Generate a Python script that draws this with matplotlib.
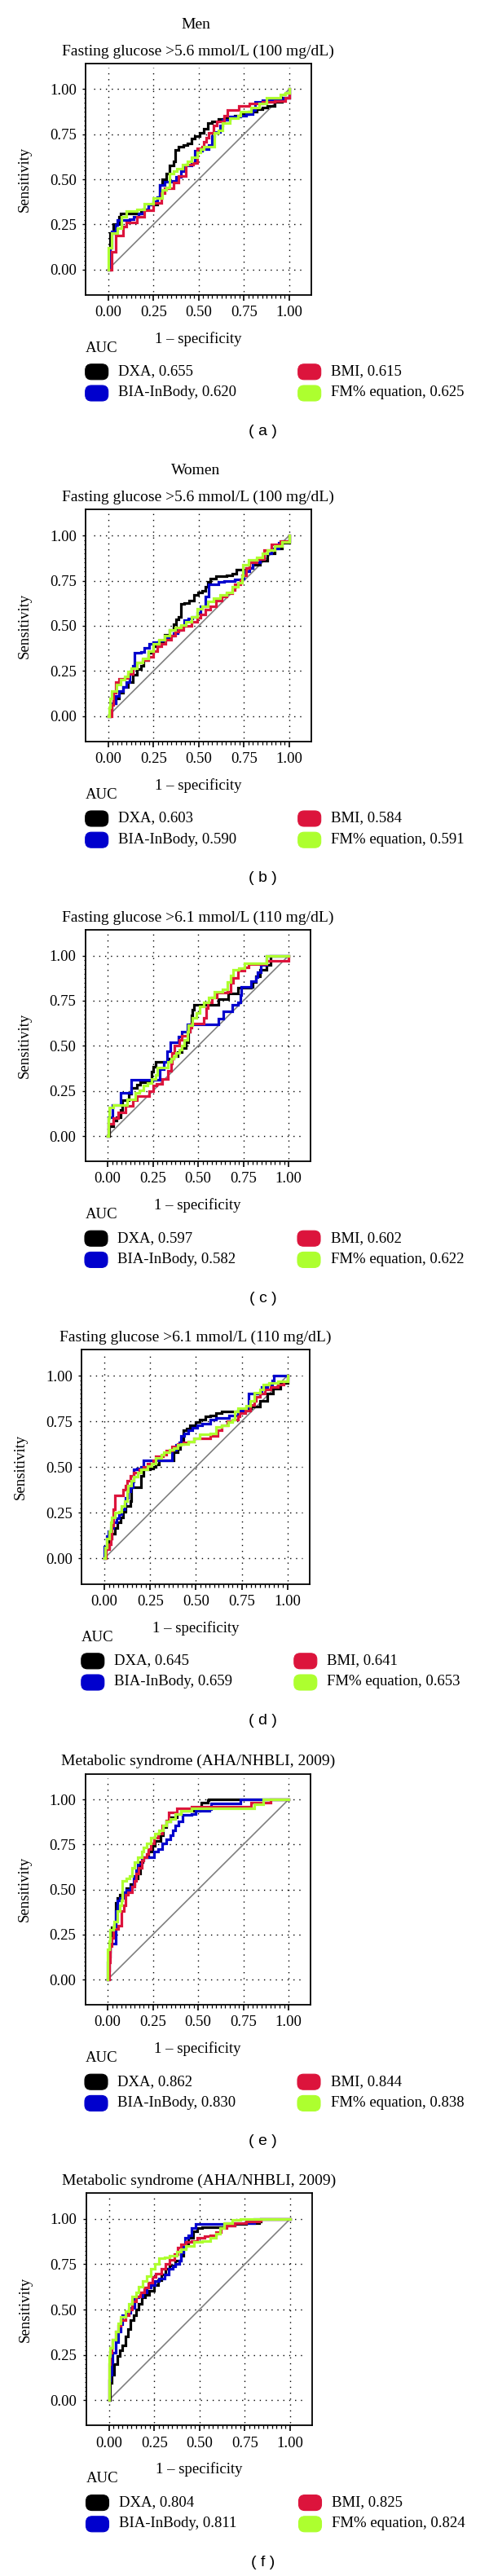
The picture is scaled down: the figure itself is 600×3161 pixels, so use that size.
import matplotlib
matplotlib.use('Agg')
import matplotlib.pyplot as plt
from matplotlib.patches import FancyBboxPatch
from matplotlib.ticker import FixedLocator

plt.rcParams['font.family'] = ['Liberation Serif', 'DejaVu Serif']

W, H = 600, 3161

########## data ##########
series_names = ['DXA', 'BIA-InBody', 'BMI', 'FM% equation']
series_colors = ['#000000', '#0000CD', '#DC143C', '#ADFF2F']

panel_titles = ['Fasting glucose >5.6 mmol/L (100 mg/dL)',
                'Fasting glucose >5.6 mmol/L (100 mg/dL)',
                'Fasting glucose >6.1 mmol/L (110 mg/dL)',
                'Fasting glucose >6.1 mmol/L (110 mg/dL)',
                'Metabolic syndrome (AHA/NHBLI, 2009)',
                'Metabolic syndrome (AHA/NHBLI, 2009)']
group_titles = ['Men', 'Women', None, None, None, None]
panel_tags = ['( a )', '( b )', '( c )', '( d )', '( e )', '( f )']

# AUC in order DXA, BIA-InBody, BMI, FM% equation
auc_a = [0.655, 0.620, 0.615, 0.625]
auc_b = [0.603, 0.590, 0.584, 0.591]
auc_c = [0.597, 0.582, 0.602, 0.622]
auc_d = [0.645, 0.659, 0.641, 0.653]
auc_e = [0.862, 0.830, 0.844, 0.838]
auc_f = [0.804, 0.811, 0.825, 0.824]

ticks = [0.00, 0.25, 0.50, 0.75, 1.00]

# (1 - specificity, sensitivity) points of each ROC curve
A_DXA = [(0,0),(0.012,0.20),(0.03,0.25),(0.06,0.29),(0.07,0.31),(0.18,0.32),(0.19,0.335),(0.22,0.36),(0.27,0.40),
         (0.285,0.47),(0.30,0.50),(0.32,0.53),(0.34,0.575),(0.36,0.60),(0.37,0.665),(0.39,0.68),(0.415,0.69),
         (0.44,0.70),(0.46,0.725),(0.48,0.74),(0.505,0.756),(0.527,0.78),(0.55,0.81),(0.572,0.82),(0.61,0.835),
         (0.64,0.845),(0.70,0.855),(0.73,0.86),(0.775,0.877),(0.82,0.887),(0.85,0.90),(0.88,0.905),(0.92,0.93),
         (0.96,0.95),(1.0,0.96),(1.0,1.0)]
A_BIA = [(0,0),(0.008,0.12),(0.02,0.21),(0.04,0.245),(0.05,0.275),(0.12,0.28),(0.14,0.29),(0.17,0.31),(0.195,0.335),
         (0.22,0.36),(0.25,0.38),(0.27,0.40),(0.285,0.47),(0.31,0.485),(0.354,0.493),(0.376,0.515),(0.40,0.546),
         (0.42,0.575),(0.46,0.59),(0.48,0.66),(0.52,0.666),(0.557,0.69),(0.572,0.74),(0.587,0.764),(0.617,0.80),
         (0.63,0.83),(0.67,0.846),(0.73,0.855),(0.76,0.86),(0.80,0.885),(0.81,0.93),(0.85,0.937),(0.90,0.944),
         (0.97,0.95),(1.0,0.955),(1.0,1.0)]
A_BMI = [(0,0),(0.02,0.10),(0.04,0.19),(0.08,0.24),(0.10,0.26),(0.16,0.29),(0.20,0.33),(0.25,0.37),(0.293,0.425),
         (0.31,0.45),(0.36,0.48),(0.39,0.52),(0.43,0.58),(0.47,0.59),(0.49,0.67),(0.52,0.68),(0.53,0.71),(0.54,0.73),
         (0.557,0.756),(0.58,0.80),(0.60,0.82),(0.64,0.855),(0.66,0.884),(0.72,0.906),(0.78,0.92),(0.85,0.93),
         (0.92,0.935),(0.98,0.95),(1.0,0.96),(1.0,1.0)]
A_FM = [(0,0),(0,0.12),(0.02,0.20),(0.05,0.23),(0.075,0.29),(0.10,0.325),(0.16,0.335),(0.20,0.365),(0.25,0.395),
        (0.30,0.44),(0.32,0.455),(0.34,0.53),(0.36,0.545),(0.38,0.56),(0.41,0.58),(0.44,0.60),(0.46,0.62),(0.49,0.65),
        (0.51,0.666),(0.53,0.68),(0.587,0.756),(0.61,0.77),(0.63,0.81),(0.67,0.84),(0.715,0.855),(0.73,0.877),
        (0.79,0.90),(0.835,0.92),(0.875,0.95),(0.95,0.97),(0.98,0.98),(1.0,1.0)]

B_DXA = [(0,0),(0.008,0.04),(0.02,0.07),(0.04,0.10),(0.06,0.13),(0.08,0.16),(0.11,0.19),(0.135,0.23),(0.16,0.26),
         (0.18,0.28),(0.195,0.31),(0.22,0.35),(0.25,0.385),(0.28,0.415),(0.31,0.45),(0.34,0.475),(0.36,0.51),
         (0.376,0.535),(0.39,0.55),(0.40,0.62),(0.42,0.625),(0.445,0.64),(0.475,0.67),(0.497,0.685),(0.52,0.693),
         (0.535,0.715),(0.55,0.745),(0.565,0.76),(0.595,0.775),(0.655,0.778),(0.685,0.79),(0.71,0.81),(0.76,0.82),
         (0.80,0.84),(0.84,0.86),(0.88,0.90),(0.92,0.93),(0.96,0.96),(1.0,1.0)]
B_BIA = [(0,0),(0.01,0.03),(0.02,0.07),(0.04,0.11),(0.06,0.14),(0.08,0.16),(0.10,0.19),(0.12,0.235),(0.135,0.28),
         (0.143,0.35),(0.18,0.355),(0.20,0.38),(0.226,0.40),(0.25,0.41),(0.28,0.42),(0.316,0.43),(0.34,0.445),
         (0.36,0.46),(0.384,0.475),(0.40,0.50),(0.42,0.53),(0.444,0.54),(0.467,0.55),(0.49,0.573),(0.51,0.61),
         (0.535,0.66),(0.557,0.73),(0.61,0.745),(0.64,0.75),(0.70,0.755),(0.738,0.76),(0.75,0.80),(0.78,0.82),
         (0.80,0.85),(0.84,0.87),(0.86,0.90),(0.90,0.93),(0.94,0.96),(0.96,0.97),(1.0,1.0)]
B_BMI = [(0,0),(0.02,0.06),(0.03,0.13),(0.04,0.19),(0.06,0.205),(0.09,0.21),(0.11,0.235),(0.135,0.265),(0.16,0.295),
         (0.19,0.31),(0.22,0.33),(0.25,0.36),(0.27,0.385),(0.294,0.40),(0.316,0.423),(0.346,0.445),(0.37,0.468),
         (0.39,0.475),(0.414,0.50),(0.46,0.52),(0.49,0.543),(0.51,0.565),(0.535,0.59),(0.565,0.61),(0.595,0.64),
         (0.625,0.663),(0.655,0.678),(0.685,0.70),(0.70,0.73),(0.73,0.753),(0.74,0.78),(0.76,0.82),(0.78,0.85),
         (0.82,0.87),(0.86,0.92),(0.90,0.95),(0.95,0.97),(1.0,1.0)]
B_FM = [(0,0),(0.005,0.05),(0.008,0.10),(0.02,0.14),(0.045,0.175),(0.07,0.20),(0.09,0.22),(0.11,0.245),(0.128,0.265),
        (0.16,0.295),(0.19,0.32),(0.22,0.36),(0.25,0.40),(0.28,0.423),(0.31,0.445),(0.34,0.475),(0.37,0.49),
        (0.40,0.505),(0.43,0.52),(0.46,0.55),(0.49,0.595),(0.52,0.61),(0.55,0.633),(0.58,0.655),(0.617,0.67),
        (0.655,0.685),(0.685,0.715),(0.715,0.74),(0.74,0.775),(0.745,0.84),(0.775,0.865),(0.82,0.88),(0.85,0.90),
        (0.88,0.92),(0.92,0.94),(0.96,0.965),(1.0,1.0)]

C_DXA = [(0,0),(0.01,0.055),(0.033,0.085),(0.05,0.105),(0.07,0.145),(0.08,0.20),(0.116,0.235),(0.13,0.265),
         (0.16,0.285),(0.18,0.30),(0.245,0.355),(0.25,0.385),(0.267,0.41),(0.334,0.43),(0.364,0.445),(0.387,0.465),
         (0.41,0.49),(0.43,0.52),(0.445,0.58),(0.455,0.62),(0.462,0.668),(0.47,0.70),(0.477,0.727),(0.61,0.757),
         (0.665,0.79),(0.72,0.82),(0.79,0.825),(0.80,0.855),(0.82,0.885),(0.84,0.92),(0.88,0.95),(0.90,1.0),(1.0,1.0)]
C_BIA = [(0,0),(0.003,0.105),(0.025,0.173),(0.07,0.24),(0.13,0.31),(0.29,0.37),(0.31,0.41),(0.33,0.47),(0.345,0.52),
         (0.39,0.55),(0.41,0.58),(0.44,0.62),(0.61,0.65),(0.64,0.69),(0.69,0.727),(0.72,0.74),(0.733,0.78),
         (0.74,0.825),(0.79,0.86),(0.82,0.88),(0.83,0.907),(0.846,0.95),(0.88,1.0),(1.0,1.0)]
C_BMI = [(0,0),(0.005,0.07),(0.03,0.10),(0.06,0.13),(0.10,0.165),(0.14,0.20),(0.16,0.22),(0.23,0.25),(0.25,0.28),
         (0.27,0.29),(0.30,0.315),(0.334,0.36),(0.35,0.40),(0.357,0.46),(0.37,0.50),(0.395,0.533),(0.41,0.555),
         (0.44,0.58),(0.455,0.60),(0.462,0.623),(0.53,0.653),(0.545,0.71),(0.553,0.74),(0.575,0.77),(0.605,0.795),
         (0.66,0.80),(0.68,0.85),(0.695,0.877),(0.72,0.915),(0.756,0.937),(0.78,0.952),(0.88,0.97),(1.0,1.0)]
C_FM = [(0,0),(0.005,0.10),(0.01,0.16),(0.033,0.173),(0.11,0.205),(0.155,0.24),(0.176,0.255),(0.20,0.28),(0.22,0.295),
        (0.245,0.315),(0.267,0.34),(0.274,0.38),(0.334,0.41),(0.35,0.43),(0.364,0.445),(0.38,0.46),(0.395,0.48),
        (0.41,0.50),(0.425,0.533),(0.44,0.58),(0.447,0.615),(0.47,0.653),(0.49,0.68),(0.508,0.72),(0.53,0.742),
        (0.56,0.77),(0.59,0.80),(0.635,0.815),(0.66,0.855),(0.68,0.89),(0.695,0.92),(0.725,0.93),(0.756,0.96),
        (0.88,1.0),(1.0,1.0)]

D_DXA = [(0,0),(0.005,0.04),(0.01,0.06),(0.027,0.107),(0.04,0.137),(0.057,0.166),(0.07,0.196),(0.087,0.225),
         (0.10,0.255),(0.116,0.285),(0.14,0.315),(0.146,0.39),(0.20,0.45),(0.213,0.485),(0.25,0.49),(0.265,0.50),
         (0.28,0.515),(0.30,0.537),(0.377,0.58),(0.40,0.60),(0.415,0.634),(0.43,0.70),(0.45,0.71),(0.467,0.73),
         (0.497,0.745),(0.52,0.76),(0.55,0.775),(0.58,0.78),(0.61,0.797),(0.64,0.804),(0.77,0.82),(0.80,0.83),
         (0.85,0.86),(0.89,0.90),(0.92,0.93),(0.96,0.96),(1.0,1.0)]
D_BIA = [(0,0),(0.0,0.062),(0.012,0.12),(0.02,0.15),(0.034,0.166),(0.05,0.196),(0.064,0.218),(0.08,0.24),
         (0.094,0.27),(0.11,0.30),(0.116,0.33),(0.13,0.366),(0.14,0.39),(0.154,0.42),(0.158,0.485),(0.176,0.49),
         (0.20,0.50),(0.213,0.537),(0.37,0.596),(0.39,0.62),(0.407,0.634),(0.42,0.67),(0.437,0.685),(0.46,0.70),
         (0.48,0.715),(0.505,0.73),(0.534,0.737),(0.58,0.76),(0.61,0.767),(0.683,0.78),(0.728,0.81),(0.78,0.826),
         (0.787,0.90),(0.86,0.937),(0.89,0.95),(0.915,0.975),(0.924,1.0),(1.0,1.0)]
D_BMI = [(0,0),(0.01,0.05),(0.027,0.077),(0.034,0.107),(0.04,0.18),(0.05,0.27),(0.057,0.344),(0.10,0.374),
         (0.116,0.40),(0.124,0.426),(0.14,0.45),(0.16,0.47),(0.19,0.485),(0.213,0.50),(0.236,0.52),(0.265,0.537),
         (0.28,0.56),(0.318,0.567),(0.34,0.59),(0.37,0.61),(0.40,0.626),(0.43,0.634),(0.46,0.64),(0.49,0.656),
         (0.58,0.67),(0.62,0.70),(0.64,0.73),(0.67,0.752),(0.70,0.76),(0.728,0.775),(0.74,0.797),(0.77,0.81),
         (0.795,0.84),(0.817,0.863),(0.83,0.886),(0.85,0.90),(0.877,0.923),(0.907,0.94),(0.95,0.95),(0.98,0.97),
         (1.0,1.0)]
D_FM = [(0,0),(0.005,0.06),(0.012,0.107),(0.027,0.15),(0.034,0.196),(0.04,0.225),(0.057,0.25),(0.08,0.255),
        (0.094,0.285),(0.11,0.315),(0.124,0.366),(0.13,0.40),(0.146,0.426),(0.16,0.448),(0.18,0.47),(0.20,0.485),
        (0.236,0.507),(0.258,0.52),(0.28,0.55),(0.31,0.567),(0.325,0.58),(0.355,0.596),(0.377,0.604),(0.40,0.62),
        (0.42,0.626),(0.46,0.64),(0.49,0.656),(0.52,0.678),(0.58,0.685),(0.61,0.72),(0.64,0.73),(0.676,0.745),
        (0.70,0.76),(0.713,0.804),(0.728,0.82),(0.773,0.834),(0.795,0.864),(0.817,0.908),(0.848,0.923),
        (0.87,0.953),(0.90,0.96),(0.95,0.97),(1.0,0.98),(1.0,1.0)]

E_DXA = [(0,0),(0.003,0.05),(0.008,0.125),(0.015,0.215),(0.02,0.26),(0.022,0.29),(0.037,0.305),(0.045,0.425),
         (0.052,0.455),(0.067,0.47),(0.08,0.486),(0.105,0.508),(0.127,0.53),(0.15,0.56),(0.165,0.59),(0.18,0.651),
         (0.195,0.68),(0.225,0.711),(0.247,0.741),(0.262,0.771),(0.292,0.80),(0.307,0.846),(0.322,0.877),
         (0.345,0.90),(0.382,0.92),(0.405,0.937),(0.51,0.952),(0.517,0.982),(0.555,0.997),(0.56,1.0),(1.0,1.0)]
E_BIA = [(0,0),(0.0,0.095),(0.008,0.155),(0.015,0.20),(0.045,0.38),(0.052,0.44),(0.067,0.455),(0.09,0.485),
         (0.105,0.50),(0.127,0.516),(0.142,0.576),(0.157,0.606),(0.165,0.644),(0.187,0.666),(0.20,0.68),
         (0.255,0.711),(0.277,0.726),(0.30,0.756),(0.322,0.779),(0.345,0.80),(0.36,0.83),(0.375,0.854),
         (0.39,0.877),(0.412,0.914),(0.465,0.92),(0.487,0.937),(0.562,0.944),(0.57,0.98),(0.735,1.0),(1.0,1.0)]
E_BMI = [(0,0),(0.008,0.095),(0.015,0.185),(0.022,0.23),(0.03,0.28),(0.06,0.30),(0.075,0.38),(0.09,0.41),
         (0.10,0.47),(0.112,0.486),(0.135,0.516),(0.15,0.546),(0.157,0.59),(0.172,0.62),(0.187,0.66),(0.20,0.68),
         (0.217,0.696),(0.225,0.726),(0.24,0.756),(0.255,0.786),(0.277,0.81),(0.30,0.854),(0.322,0.884),
         (0.337,0.93),(0.382,0.952),(0.465,0.96),(0.79,0.982),(0.90,1.0),(1.0,1.0)]
E_FM = [(0,0),(0.0,0.17),(0.008,0.215),(0.015,0.275),(0.03,0.29),(0.037,0.32),(0.052,0.38),(0.067,0.41),
        (0.075,0.44),(0.08,0.55),(0.105,0.56),(0.12,0.576),(0.135,0.62),(0.15,0.65),(0.165,0.68),(0.187,0.71),
        (0.20,0.734),(0.217,0.756),(0.24,0.786),(0.262,0.81),(0.285,0.83),(0.307,0.854),(0.322,0.877),
        (0.345,0.89),(0.375,0.92),(0.405,0.937),(0.465,0.952),(0.81,0.975),(0.86,1.0),(1.0,1.0)]

F_DXA = [(0,0),(0.005,0.094),(0.015,0.14),(0.03,0.20),(0.045,0.244),(0.06,0.274),(0.075,0.304),(0.09,0.35),
         (0.105,0.394),(0.12,0.44),(0.135,0.47),(0.15,0.50),(0.164,0.53),(0.18,0.566),(0.20,0.58),(0.224,0.603),
         (0.247,0.633),(0.27,0.663),(0.29,0.693),(0.314,0.723),(0.336,0.745),(0.366,0.768),(0.396,0.798),
         (0.41,0.843),(0.426,0.865),(0.44,0.895),(0.463,0.933),(0.486,0.948),(0.516,0.955),(0.59,0.955),
         (0.635,0.963),(0.695,0.97),(0.755,0.978),(0.83,0.985),(0.84,1.0),(1.0,1.0)]
F_BIA = [(0,0),(0.0,0.11),(0.007,0.14),(0.015,0.21),(0.022,0.26),(0.037,0.32),(0.052,0.38),(0.067,0.42),
         (0.075,0.47),(0.097,0.48),(0.12,0.51),(0.142,0.566),(0.164,0.573),(0.187,0.596),(0.21,0.62),(0.232,0.633),
         (0.254,0.656),(0.277,0.67),(0.306,0.693),(0.33,0.723),(0.351,0.738),(0.366,0.753),(0.389,0.768),
         (0.396,0.813),(0.41,0.85),(0.418,0.895),(0.44,0.91),(0.456,0.948),(0.478,0.97),(0.64,0.975),(0.80,1.0),
         (1.0,1.0)]
F_BMI = [(0,0),(0.0,0.20),(0.007,0.26),(0.015,0.29),(0.022,0.334),(0.037,0.38),(0.052,0.41),(0.067,0.44),
         (0.09,0.47),(0.112,0.50),(0.127,0.544),(0.15,0.573),(0.172,0.596),(0.194,0.62),(0.217,0.648),(0.24,0.678),
         (0.26,0.70),(0.29,0.723),(0.314,0.753),(0.336,0.775),(0.36,0.805),(0.38,0.843),(0.396,0.858),
         (0.426,0.873),(0.456,0.88),(0.486,0.895),(0.53,0.903),(0.56,0.91),(0.59,0.925),(0.62,0.948),(0.65,0.963),
         (0.695,0.978),(0.755,0.985),(0.83,0.99),(0.84,1.0),(1.0,1.0)]
F_FM = [(0,0),(0.0,0.244),(0.007,0.29),(0.022,0.334),(0.037,0.38),(0.052,0.424),(0.067,0.46),(0.09,0.49),
        (0.112,0.53),(0.127,0.573),(0.15,0.596),(0.164,0.626),(0.187,0.656),(0.21,0.686),(0.232,0.723),
        (0.254,0.753),(0.277,0.783),(0.306,0.79),(0.336,0.798),(0.374,0.82),(0.396,0.835),(0.426,0.85),
        (0.47,0.873),(0.516,0.88),(0.56,0.895),(0.59,0.918),(0.613,0.948),(0.635,0.978),(0.68,0.993),
        (0.725,1.0),(1.0,1.0)]
###############################################

curves = [[A_DXA, A_BIA, A_BMI, A_FM],
          [B_DXA, B_BIA, B_BMI, B_FM],
          [C_DXA, C_BIA, C_BMI, C_FM],
          [D_DXA, D_BIA, D_BMI, D_FM],
          [E_DXA, E_BIA, E_BMI, E_FM],
          [F_DXA, F_BIA, F_BMI, F_FM]]
aucs = [auc_a, auc_b, auc_c, auc_d, auc_e, auc_f]

# axes boxes in pixels: left, right, top, bottom
boxes = [(105.2, 381.5, 77.8, 361.6),
         (105.2, 381.5, 625.4, 909.8),
         (104.5, 380.8, 1141.0, 1425.0),
         (100.3, 379.6, 1656.0, 1943.6),
         (104.5, 380.8, 2176.5, 2460.0),
         (106.0, 382.7, 2691.0, 2976.4)]

draw_order = [0, 2, 3, 1]   # blue on top
fs = 13.5


def fx(px):
    return px / W


def fy(py):
    return 1 - py / H


fig = plt.figure(figsize=(W / 100, H / 100), dpi=100)

for i in range(6):
    L, R, T, B = boxes[i]
    ax = fig.add_axes([fx(L), fy(B), (R - L) / W, (B - T) / H])
    ax.set_xlim(-0.124, 1.12)
    ax.set_ylim(-0.14, 1.143)

    # sparse dotted grid, not reaching the frame
    ax.hlines(ticks, -0.08, 1.08, colors='black', linewidth=1.0, linestyles=(0, (1, 4.2)), zorder=1)
    ax.vlines(ticks, -0.125, 1.12, colors='black', linewidth=1.0, linestyles=(0, (1, 4.2)), zorder=1)
    ax.plot([0, 1], [0, 1], color='#808080', linewidth=1.2, zorder=2)

    for k in draw_order:
        pts = curves[i][k]
        xs = [p[0] for p in pts]
        ys = [p[1] for p in pts]
        ax.plot(xs, ys, drawstyle='steps-post', color=series_colors[k], linewidth=2.3,
                solid_joinstyle='miter', zorder=3 + k)

    ax.set_xticks(ticks)
    ax.set_yticks(ticks)
    ax.set_xticklabels(['%.2f' % t for t in ticks])
    ax.set_yticklabels(['%.2f' % t for t in ticks])
    ax.xaxis.set_minor_locator(FixedLocator([j * 0.025 for j in range(41)]))
    ax.yaxis.set_minor_locator(FixedLocator([j * 0.025 for j in range(41)]))
    ax.tick_params(axis='x', which='major', direction='out', length=5, width=1.2, pad=4.5, labelsize=fs)
    ax.tick_params(axis='x', which='minor', direction='out', length=3, width=0.9)
    ax.tick_params(axis='y', which='major', direction='out', length=3, width=1.0, pad=5.2, labelsize=fs)
    ax.tick_params(axis='y', which='minor', direction='out', length=1.8, width=0.8)
    for s in ax.spines.values():
        s.set_linewidth(1.3)

    cx = (L + R) / 2
    fig.text(fx(cx), fy(T - 14.7), panel_titles[i], ha='center', va='center', fontsize=14)
    if group_titles[i]:
        fig.text(fx(cx - 3), fy(T - 47.6), group_titles[i], ha='center', va='center', fontsize=14)
    fig.text(fx(L - 74.6), fy((T + B) / 2), 'Sensitivity', rotation=90, ha='center', va='center', fontsize=fs)
    fig.text(fx(cx), fy(B + 54), '1 \u2013 specificity', ha='center', va='center', fontsize=fs)

    # legend block
    fig.text(fx(L), fy(B + 65.5), 'AUC', ha='left', va='center', fontsize=fs)
    slots = [(0, 0), (0, 1), (1, 0), (1, 1)]  # (column, row) for DXA, BIA, BMI, FM
    for k in range(4):
        col, row = slots[k]
        ry = B + 94.2 + row * 26.2
        sx = L - 0.5 + col * 261
        tx = L + 40 + col * 261
        sw = FancyBboxPatch(((sx) / 100, (H - ry - 10) / 100), 0.28, 0.19,
                            boxstyle='round,pad=0,rounding_size=0.075',
                            transform=fig.dpi_scale_trans, facecolor=series_colors[k],
                            edgecolor=series_colors[k], linewidth=0.8)
        fig.add_artist(sw)
        fig.text(fx(tx), fy(ry), '%s, %.3f' % (series_names[k], aucs[i][k]),
                 ha='left', va='center', fontsize=fs)

    fig.text(fx(322.6), fy(B + 168), panel_tags[i], ha='center', va='center', fontsize=14,
             family=['Liberation Sans', 'DejaVu Sans'])

fig.savefig('out.png', dpi=100)
